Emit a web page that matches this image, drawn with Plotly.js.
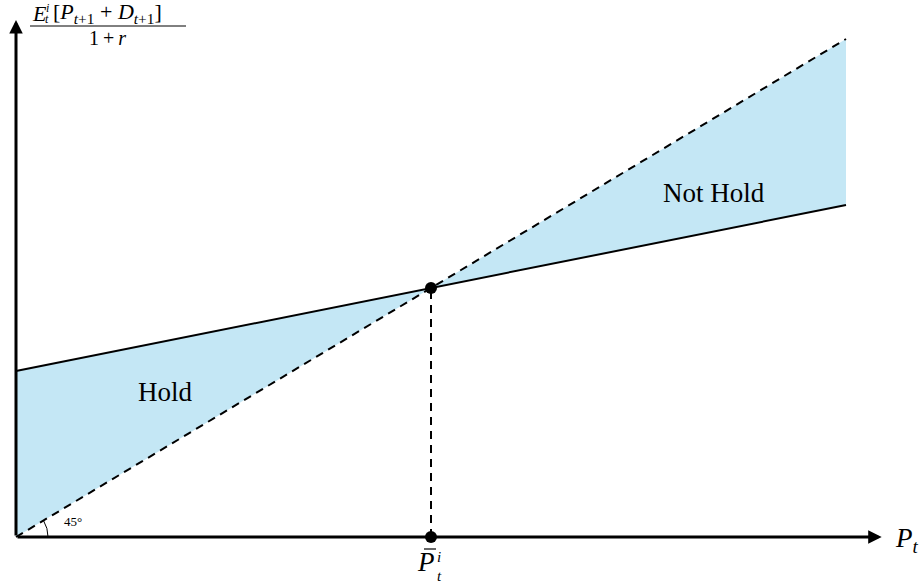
<!DOCTYPE html>
<html>
<head>
<meta charset="utf-8">
<script src="https://cdn.plot.ly/plotly-3.0.1.min.js"></script>
<style>
  html, body { margin: 0; padding: 0; background: #fff; }
  #chart { width: 923px; height: 584px; }
</style>
</head>
<body>
<div id="chart"></div>
<script>
// price grid and the two schedules (same units on both axes)
const priceGrid = [0, 5, 10];
const fortyFive = [0, 3, 6];     // dashed 45 degree line
const valuation = [2, 3, 4];     // discounted expected payoff
const pBar = 5;
const pBarValue = 3;
const axisEnd = { x: 10.43, y: 6.23 };

const W = 923, H = 584;
const unit = 83, ox = 16, oy = 537;
// pixel -> paper helper for the labels
const at = (px, py) => ({ x: px / W, y: 1 - py / H });

const FONT = 'Liberation Serif, Times New Roman, serif';
const fillColor = '#c4e7f5';

const traces = [
  {
    x: [priceGrid[0], priceGrid[0], priceGrid[1]],
    y: [fortyFive[0], valuation[0], valuation[1]],
    type: 'scatter', mode: 'none', fill: 'toself', fillcolor: fillColor,
    hoverinfo: 'skip'
  },
  {
    x: [priceGrid[1], priceGrid[2], priceGrid[2]],
    y: [valuation[1], fortyFive[2], valuation[2]],
    type: 'scatter', mode: 'none', fill: 'toself', fillcolor: fillColor,
    hoverinfo: 'skip'
  },
  {
    x: priceGrid, y: fortyFive, type: 'scatter', mode: 'lines',
    line: { color: '#000', width: 2, dash: '8px,6px' }, hoverinfo: 'skip'
  },
  {
    x: priceGrid, y: valuation, type: 'scatter', mode: 'lines',
    line: { color: '#000', width: 2 }, hoverinfo: 'skip'
  },
  {
    x: [pBar, pBar], y: [0, pBarValue], type: 'scatter', mode: 'lines',
    line: { color: '#000', width: 2, dash: '8px,6px' }, hoverinfo: 'skip'
  },
  {
    x: [pBar, pBar], y: [pBarValue, 0], type: 'scatter', mode: 'markers',
    marker: { color: '#000', size: 12 }, hoverinfo: 'skip'
  }
];

function label(px, py, text, size, extra) {
  return Object.assign({
    xref: 'paper', yref: 'paper', ...at(px, py),
    text: text, showarrow: false,
    font: { family: FONT, size: size, color: '#000' },
    xanchor: 'center', yanchor: 'middle'
  }, extra || {});
}

function arrow(x, y) {
  return {
    xref: 'x', yref: 'y', axref: 'x', ayref: 'y',
    x: x, y: y, ax: 0, ay: 0, text: '',
    showarrow: true, arrowhead: 2, arrowsize: 0.9, arrowwidth: 3, arrowcolor: '#000'
  };
}

const annotations = [
  arrow(axisEnd.x, 0),
  arrow(0, axisEnd.y),
  label(165, 392, 'Hold', 27),
  label(714, 193, 'Not Hold', 27),
  label(73, 521, '45°', 13),
  // y axis label, fraction
  label(30, 13, '<i>E</i>', 22, { xanchor: 'left' }),
  label(47, 8, '<i>i</i>', 12),
  label(47, 19, '<i>t</i>', 12),
  label(51, 13, '[<i>P</i><sub><i>t</i>+1</sub> + <i>D</i><sub><i>t</i>+1</sub>]', 22, { xanchor: 'left' }),
  label(107, 38, '1\u2009+\u2009<i>r</i>', 20),
  // x axis label
  label(893, 540, '<i>P</i><sub><i>t</i></sub>', 27, { xanchor: 'left' }),
  // price threshold
  label(426, 562, '<i>P</i>', 27),
  label(439, 557, '<i>i</i>', 15),
  label(439, 576, '<i>t</i>', 15)
];

const shapes = [
  // fraction bar
  { type: 'line', xref: 'paper', yref: 'paper', x0: at(30, 0).x, x1: at(186, 0).x,
    y0: at(0, 26).y, y1: at(0, 26).y, line: { color: '#000', width: 1 } },
  // bar over P
  { type: 'line', xref: 'paper', yref: 'paper', x0: at(424, 0).x, x1: at(436, 0).x,
    y0: at(0, 549).y, y1: at(0, 549).y, line: { color: '#000', width: 1.2 } },
  // 45 degree arc
  { type: 'path', xref: 'x', yref: 'y',
    path: 'M 0.386,0 Q 0.386,0.107 0.331,0.199', line: { color: '#000', width: 1 } }
];

const layout = {
  width: W, height: H,
  margin: { l: 0, r: 0, t: 0, b: 0 },
  paper_bgcolor: '#fff', plot_bgcolor: '#fff',
  showlegend: false,
  xaxis: { range: [-ox / unit, (W - ox) / unit], visible: false, fixedrange: true },
  yaxis: { range: [(oy - H) / unit, oy / unit], visible: false, fixedrange: true },
  annotations: annotations,
  shapes: shapes
};

Plotly.newPlot('chart', traces, layout, { displayModeBar: false, staticPlot: true });
</script>
</body>
</html>
